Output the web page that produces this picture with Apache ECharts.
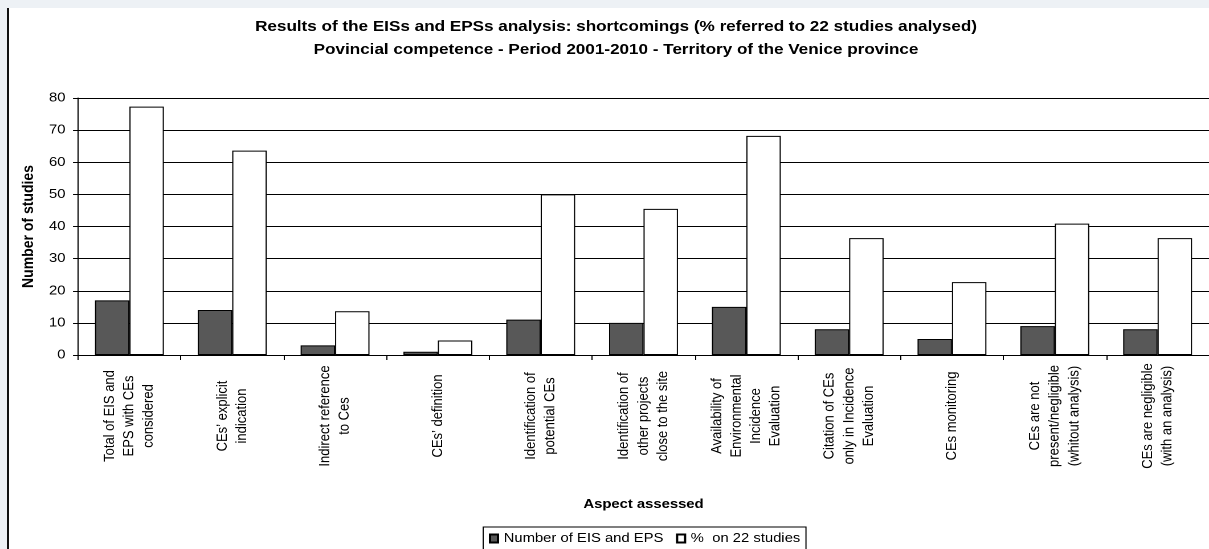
<!DOCTYPE html>
<html>
<head>
<meta charset="utf-8">
<script src="https://cdn.jsdelivr.net/npm/echarts@6/dist/echarts.min.js"></script>
<style>
  html, body { margin: 0; padding: 0; background: #ffffff; overflow: hidden; width: 1209px; height: 549px; }
  /* the chart is laid out on a narrower canvas and widened, giving the wide letterforms of the printed figure */
  #chart { position: absolute; left: 0; top: 0; width: 1061px; height: 549px; transform-origin: 0 0; transform: scaleX(1.1395); }
  .strip-top { position: absolute; left: 0; top: 0; width: 1209px; height: 8px; background: #edf1f5; z-index: 2; }
  .strip-left { position: absolute; left: 0; top: 0; width: 7px; height: 549px; background: #edf1f5; z-index: 2; }
  .frame-left { position: absolute; left: 7px; top: 8px; width: 2px; height: 541px; background: #111; z-index: 2; }
</style>
</head>
<body>
<div id="chart"></div>
<div class="strip-top"></div>
<div class="strip-left"></div>
<div class="frame-left"></div>
<script>
// Aspects assessed in the EIS / EPS review
const categories = [
  'Total of EIS and\nEPS with CEs\nconsidered',
  'CEs\u2019 explicit\nindication',
  'Indirect reference\nto Ces',
  'CEs\u2019 definition',
  'Identification of\npotential CEs',
  'Identification of\nother projects\nclose to the site',
  'Availability of\nEnvironmental\nIncidence\nEvaluation',
  'Citation of CEs\nonly in Incidence\nEvaluation',
  'CEs monitoring',
  'CEs are not\npresent/negligible\n(whitout analysis)',
  'CEs are negligible\n(with an analysis)'
];

// Number of EIS and EPS per aspect
const studyCounts = [17, 14, 3, 1, 11, 10, 15, 8, 5, 9, 8];

// Share of the 22 studies (%)
const studyPercent = [77.3, 63.6, 13.6, 4.5, 50.0, 45.5, 68.2, 36.4, 22.7, 40.9, 36.4];

const seriesNames = ['Number of EIS and EPS', '%  on 22 studies'];
const titleLines = [
  'Results of the EISs and EPSs analysis: shortcomings (% referred to 22 studies analysed)',
  'Povincial competence - Period 2001-2010 - Territory of the Venice province'
];
const yAxisTitle = 'Number of studies';
const xAxisTitle = 'Aspect assessed';

const FONT = '"Liberation Sans", Arial, sans-serif';

const chart = echarts.init(document.getElementById('chart'), null, { renderer: 'canvas', devicePixelRatio: 2 });

chart.setOption({
  backgroundColor: '#ffffff',
  animation: false,
  textStyle: { fontFamily: FONT, color: '#000' },
  title: [{
    text: titleLines.join('\n'),
    left: 540.6,
    top: 15.5,
    textAlign: 'center',
    padding: 0,
    textStyle: {
      fontFamily: FONT,
      fontSize: 15,
      fontWeight: 'bold',
      color: '#000',
      lineHeight: 23
    }
  }],
  legend: {
    data: seriesNames,
    left: 424,
    top: 527,
    orient: 'horizontal',
    icon: 'rect',
    itemWidth: 7,
    itemHeight: 8,
    itemGap: 11,
    padding: [5, 5, 8, 5],
    borderColor: '#000',
    borderWidth: 1,
    backgroundColor: '#fff',
    textStyle: { fontFamily: FONT, fontSize: 13, color: '#000' }
  },
  grid: {
    left: 68.45,
    right: -3.5,
    top: 98,
    bottom: 194,
    containLabel: false
  },
  xAxis: {
    type: 'category',
    data: categories,
    name: xAxisTitle,
    nameLocation: 'middle',
    nameGap: 143,
    nameTextStyle: { fontFamily: FONT, fontSize: 13, fontWeight: 'bold', color: '#000' },
    axisLine: { show: true, lineStyle: { color: '#000', width: 1 } },
    axisTick: { show: true, length: 5, interval: 0, lineStyle: { color: '#000' } },
    axisLabel: {
      interval: 0,
      rotate: 90,
      align: 'center',
      verticalAlign: 'middle',
      margin: 61,
      fontFamily: FONT,
      fontSize: 13,
      lineHeight: 17.1,
      color: '#000'
    }
  },
  yAxis: {
    type: 'value',
    min: 0,
    max: 80,
    interval: 10,
    name: yAxisTitle,
    nameLocation: 'middle',
    nameGap: 30,
    nameRotate: 90,
    nameTextStyle: { fontFamily: FONT, fontSize: 14, fontWeight: 'bold', color: '#000' },
    axisLine: { show: true, lineStyle: { color: '#000', width: 1 } },
    axisTick: { show: true, length: 4.4, inside: false, lineStyle: { color: '#000' } },
    axisLabel: { margin: 11, fontFamily: FONT, fontSize: 13, color: '#000' },
    splitLine: { show: true, lineStyle: { color: '#000', width: 1 } }
  },
  series: [{
    name: seriesNames[0],
    type: 'bar',
    data: studyCounts,
    barGap: '0%',
    barCategoryGap: '33%',
    itemStyle: { color: '#585858', borderColor: '#000', borderWidth: 1 }
  }, {
    name: seriesNames[1],
    type: 'bar',
    data: studyPercent,
    barGap: '0%',
    barCategoryGap: '33%',
    itemStyle: { color: '#ffffff', borderColor: '#000', borderWidth: 1 }
  }]
});
</script>
</body>
</html>
